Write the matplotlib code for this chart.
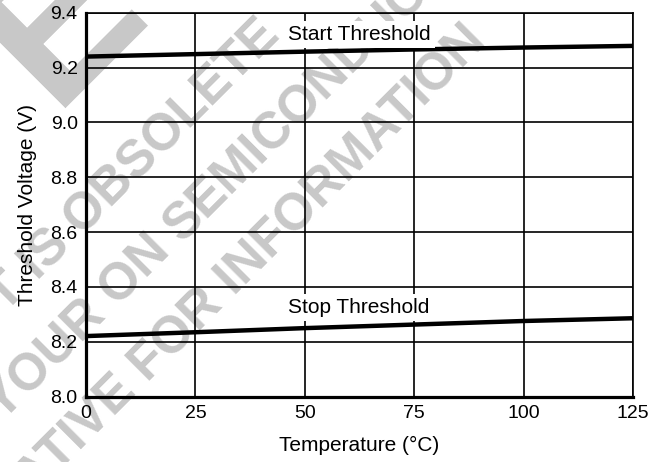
import numpy as np
import matplotlib.pyplot as plt

plt.rcParams['font.family'] = ['Liberation Sans', 'DejaVu Sans']

temp = [0, 25, 50, 75, 100, 125]
start_v = [9.240, 9.249, 9.258, 9.266, 9.273, 9.279]
stop_v = [8.221, 8.235, 8.250, 8.263, 8.276, 8.286]

x_ticks = [0, 25, 50, 75, 100, 125]
y_ticks = [8.0, 8.2, 8.4, 8.6, 8.8, 9.0, 9.2, 9.4]

fig = plt.figure(figsize=(6.66, 4.62), dpi=100)
W, H = 666.0, 462.0

# grey "obsolete" watermark behind the chart
wm = dict(rotation=45, fontsize=37, fontweight='bold', color='#c8c8c8',
          va='center', rotation_mode='anchor', zorder=-1)
fig.text(272 / W, 1 - 28 / H, 'PRODUCT IS OBSOLETE', ha='right', **wm)
fig.text(163 / W, 1 - 244 / H, 'CONTACT YOUR ON', ha='right', **wm)
fig.text(173 / W, 1 - 234 / H, 'SEMICONDUCTOR', ha='left', **wm)
fig.text(478 / W, 1 - 34 / H, 'REPRESENTATIVE FOR INFORMATION', ha='right', **wm)
# corner of a much larger watermark letter
fig.text(52 / W, 1 - 108 / H, 'E', rotation=45, fontsize=150,
         fontweight='bold', color='#c8c8c8', ha='left', va='baseline',
         rotation_mode='anchor', zorder=-1)

ax = fig.add_axes([86 / W, 1 - 396.7 / H, 547 / W, 384 / H])
ax.patch.set_alpha(0)

ax.plot(temp, start_v, color='black', lw=3.2, zorder=3)
ax.plot(temp, stop_v, color='black', lw=3.2, zorder=3)

ax.set_xlim(0, 125)
ax.set_ylim(8.0, 9.4)
ax.set_xticks(x_ticks)
ax.set_yticks(y_ticks)
ax.set_yticklabels(['%.1f' % v for v in y_ticks])
ax.grid(True, color='black', lw=1.2)
ax.tick_params(length=0, labelsize=14, pad=6)

for s in ['left', 'bottom']:
    ax.spines[s].set_linewidth(2.3)
for s in ['top', 'right']:
    ax.spines[s].set_linewidth(1.2)

box = dict(facecolor='white', edgecolor='none', pad=3)
ax.text(62.4, 9.3005, 'Start Threshold', fontsize=15, ha='center',
        va='baseline', zorder=4, bbox=box)
ax.text(62.4, 8.304, 'Stop Threshold', fontsize=15, ha='center',
        va='baseline', zorder=4, bbox=box)

ax.set_xlabel('Temperature (°C)', fontsize=15, labelpad=10)
ax.set_ylabel('Threshold Voltage (V)', fontsize=15, labelpad=10)

fig.savefig('out.png', dpi=100)
